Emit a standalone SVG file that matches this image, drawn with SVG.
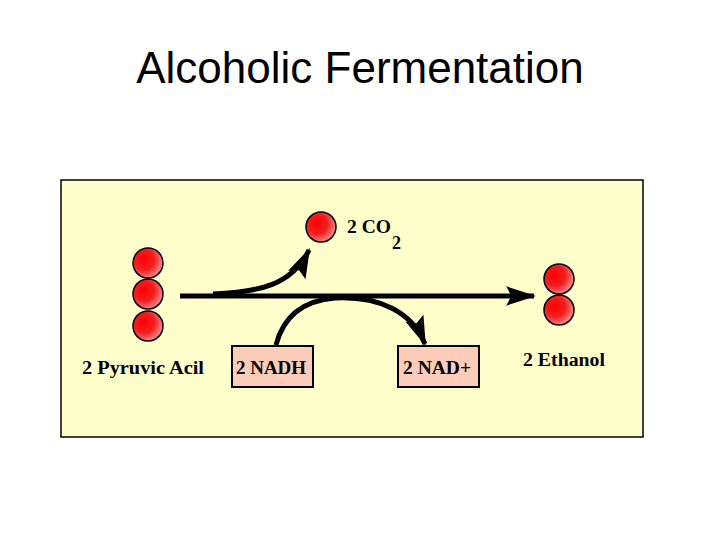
<svg xmlns="http://www.w3.org/2000/svg" width="720" height="540" viewBox="0 0 720 540">
<defs>
<radialGradient id="ball" cx="0.38" cy="0.4" r="0.7" fx="0.35" fy="0.38">
<stop offset="0" stop-color="#ff0000"/>
<stop offset="0.5" stop-color="#f02020"/>
<stop offset="1" stop-color="#f6a0a0"/>
</radialGradient>
<marker id="ah" viewBox="0 0 14 9" refX="13" refY="4.5" markerWidth="6" markerHeight="4" orient="auto" markerUnits="strokeWidth">
<path d="M0,0 L14,4.5 L0,9 L2.5,4.5 z" fill="#000"/>
</marker>
</defs>
<style>
.ball{fill:url(#ball);stroke:#000;stroke-width:1.5}
.lbl{font-family:"Liberation Serif","Times New Roman",serif;font-weight:bold;font-size:18px;fill:#000}
.box{fill:#fcccb8;stroke:#000;stroke-width:2}
.conn{fill:none;stroke:#000;stroke-width:5}
</style>
<rect width="720" height="540" fill="#fff"/>
<text x="360" y="83" text-anchor="middle" font-family="'Liberation Sans',Arial,sans-serif" font-size="44" fill="#000">Alcoholic Fermentation</text>
<rect id="panel" x="61" y="180" width="582" height="257" fill="#ffffcc" stroke="#000" stroke-width="1.5"/>
<g id="connectors">
<path class="conn" d="M180,296 L534,296" marker-end="url(#ah)"/>
<path class="conn" d="M213,294 C260,292 292,285 309,250" marker-end="url(#ah)" stroke-width="4.5"/>
<path class="conn" d="M276,345 C285,310 310,300 335,298 C380,296 412,312 425,344" marker-end="url(#ah)" stroke-width="4.5"/>
</g>
<g id="pyruvic">
<circle class="ball" cx="148" cy="263" r="15"/>
<circle class="ball" cx="148" cy="294" r="15"/>
<circle class="ball" cx="148" cy="326" r="15"/>
<text class="lbl" x="82" y="374" textLength="122" lengthAdjust="spacingAndGlyphs">2 Pyruvic Acil</text>
</g>
<g id="co2">
<circle class="ball" cx="321" cy="227" r="15"/>
<text class="lbl" x="347" y="233" textLength="44" lengthAdjust="spacingAndGlyphs">2 CO</text>
<text class="lbl" x="392" y="249">2</text>
</g>
<g id="ethanol">
<circle class="ball" cx="559" cy="279" r="15"/>
<circle class="ball" cx="559" cy="310" r="15"/>
<text class="lbl" x="523" y="366" textLength="82" lengthAdjust="spacingAndGlyphs">2 Ethanol</text>
</g>
<g id="nadh">
<rect class="box" x="232" y="346" width="81" height="41"/>
<text class="lbl" x="236" y="374" textLength="70" lengthAdjust="spacingAndGlyphs">2 NADH</text>
</g>
<g id="nad">
<rect class="box" x="398" y="346" width="81" height="41"/>
<text class="lbl" x="403" y="374" textLength="68" lengthAdjust="spacingAndGlyphs">2 NAD+</text>
</g>
</svg>
